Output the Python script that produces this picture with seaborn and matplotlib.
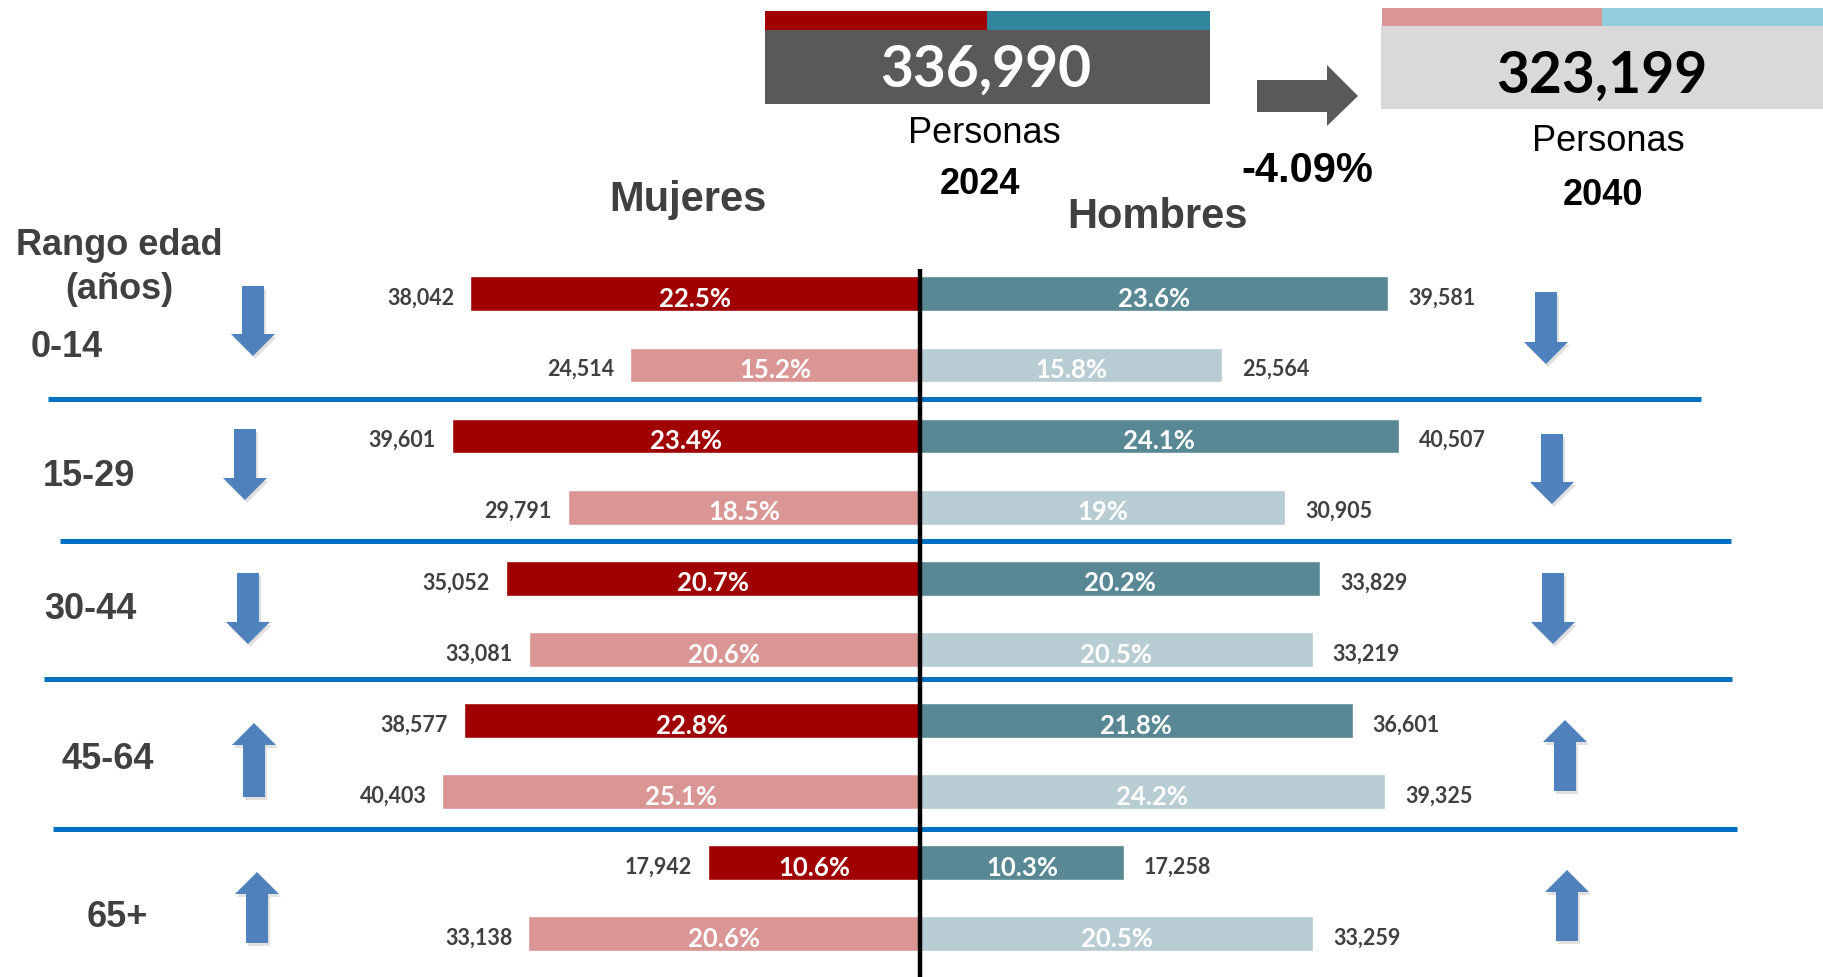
import matplotlib
matplotlib.use("Agg")
import matplotlib.pyplot as plt
import seaborn as sns
import pandas as pd
from matplotlib.patches import Rectangle, Polygon

# ---------------- data ----------------
age_groups = ["0-14", "15-29", "30-44", "45-64", "65+"]
years = ["2024", "2040"]
women_2024 = [38042, 39601, 35052, 38577, 17942]
women_2040 = [24514, 29791, 33081, 40403, 33138]
men_2024 = [39581, 40507, 33829, 36601, 17258]
men_2040 = [25564, 30905, 33219, 39325, 33259]
women_pct_2024 = [22.5, 23.4, 20.7, 22.8, 10.6]
women_pct_2040 = [15.2, 18.5, 20.6, 25.1, 20.6]
men_pct_2024 = [23.6, 24.1, 20.2, 21.8, 10.3]
men_pct_2040 = [15.8, 19, 20.5, 24.2, 20.5]
total_2024 = 336990
total_2040 = 323199
change_pct = -4.09

# ---------------- style ----------------
sns.set_style("white")
SANS = ["Liberation Sans", "DejaVu Sans"]
NUM = ["Lato", "DejaVu Sans"]
plt.rcParams["font.family"] = SANS

C_W24, C_W40 = "#A00000", "#DA9694"
C_M24, C_M40 = "#588893", "#B7CDD3"
C_TEAL, C_LBLUE = "#31859C", "#92CDDC"
C_TXT = "#404040"
C_ARROW = "#4F81BD"
C_SEP = "#0070C0"

rows, w_vals, m_vals, w_pct, m_pct, w_col, m_col = [], [], [], [], [], [], []
for i, g in enumerate(age_groups):
    for y, wv, mv, wp, mp, wc, mc in (
        (years[0], women_2024[i], men_2024[i], women_pct_2024[i], men_pct_2024[i], C_W24, C_M24),
        (years[1], women_2040[i], men_2040[i], women_pct_2040[i], men_pct_2040[i], C_W40, C_M40),
    ):
        rows.append(f"{g} {y}")
        w_vals.append(wv)
        m_vals.append(mv)
        w_pct.append(wp)
        m_pct.append(mp)
        w_col.append(wc)
        m_col.append(mc)

df = pd.DataFrame({"row": rows, "women": [-v for v in w_vals], "men": m_vals})

W, H = 1823, 978
fig = plt.figure(figsize=(W / 100, H / 100), dpi=100)

# overlay axes in pixel coordinates (decorations)
ov = fig.add_axes([0, 0, 1, 1])
ov.set_xlim(0, W)
ov.set_ylim(H, 0)
ov.axis("off")

# main bar axes
top_px = 270
ax = fig.add_axes([0, 0, 1, (H - top_px) / H])
ax.patch.set_alpha(0)
px_per_unit = 84.6
sns.barplot(data=df, x="women", y="row", hue="row", order=rows, hue_order=rows,
            palette=w_col, width=0.49, saturation=1, legend=False, orient="h", ax=ax)
sns.barplot(data=df, x="men", y="row", hue="row", order=rows, hue_order=rows,
            palette=m_col, width=0.49, saturation=1, legend=False, orient="h", ax=ax)
ax.set_xlim(-920 * px_per_unit, (W - 920) * px_per_unit)
ax.set_ylim(9.61, -0.35)
ax.axis("off")
ax.axvline(0, color="black", lw=3.2, zorder=5)

PT = 0.72  # points per pixel at 100 dpi
for i in range(len(rows)):
    ax.annotate(f"{w_vals[i]:,}", xy=(-w_vals[i], i + 0.05), xytext=(-16 * PT, 0),
                textcoords="offset points", ha="right", va="center",
                fontsize=15.5, fontweight="bold", color=C_TXT, family=NUM)
    ax.annotate(f"{m_vals[i]:,}", xy=(m_vals[i], i + 0.05), xytext=(20 * PT, 0),
                textcoords="offset points", ha="left", va="center",
                fontsize=15.5, fontweight="bold", color=C_TXT, family=NUM)
    ax.text(-w_vals[i] / 2, i + 0.06, f"{w_pct[i]:g}%", ha="center", va="center",
            fontsize=18.5, fontweight="bold", color="white", family=NUM, zorder=6)
    ax.text(m_vals[i] / 2, i + 0.06, f"{m_pct[i]:g}%", ha="center", va="center",
            fontsize=18.5, fontweight="bold", color="white", family=NUM, zorder=6)

# separators
for yy, x0, x1 in ((400, 48, 1701), (542, 60, 1731), (680, 44, 1732), (830, 53, 1737)):
    ov.plot([x0, x1], [yy, yy], color=C_SEP, lw=3.6, solid_capstyle="butt")


def block_arrow(cx, y0, y1, up, color=C_ARROW, shaft=22, head=44, hlen=22, shadow=True):
    if up:
        pts = [(cx - shaft / 2, y1), (cx - shaft / 2, y0 + hlen), (cx - head / 2, y0 + hlen),
               (cx, y0), (cx + head / 2, y0 + hlen), (cx + shaft / 2, y0 + hlen), (cx + shaft / 2, y1)]
    else:
        pts = [(cx - shaft / 2, y0), (cx - shaft / 2, y1 - hlen), (cx - head / 2, y1 - hlen),
               (cx, y1), (cx + head / 2, y1 - hlen), (cx + shaft / 2, y1 - hlen), (cx + shaft / 2, y0)]
    if shadow:
        sp = [(x + 2, y + 3) for x, y in pts]
        ov.add_patch(Polygon(sp, closed=True, color="#000000", alpha=0.12, lw=0))
    ov.add_patch(Polygon(pts, closed=True, color=color, lw=0))


left_arrows = [(253, 287, 357), (245, 430, 501), (248, 574, 645), (254, 724, 798), (257, 873, 944)]
right_arrows = [(1546, 293, 365), (1552, 435, 505), (1553, 574, 645), (1565, 721, 792), (1567, 871, 942)]
for i in range(len(age_groups)):
    cx, y0, y1 = left_arrows[i]
    block_arrow(cx, y0, y1, women_2040[i] > women_2024[i])
    cx, y0, y1 = right_arrows[i]
    block_arrow(cx, y0, y1, men_2040[i] > men_2024[i])

DY = 3.5  # vertical text adjustment (px)
# left labels
ov.text(119, 242 + DY, "Rango edad", ha="center", va="center", fontsize=26, fontweight="bold", color=C_TXT)
ov.text(119, 286 + DY, "(años)", ha="center", va="center", fontsize=26, fontweight="bold", color=C_TXT)
age_pos = [(31, 344), (43, 473), (44, 606), (62, 756), (87, 914)]
for g, (x, y) in zip(age_groups, age_pos):
    ov.text(x, y + DY, g, ha="left", va="center", fontsize=26, fontweight="bold", color=C_TXT)

ov.text(688, 196 + DY, "Mujeres", ha="center", va="center", fontsize=30, fontweight="bold", color=C_TXT)
ov.text(1158, 213 + DY, "Hombres", ha="center", va="center", fontsize=30, fontweight="bold", color=C_TXT)

# header boxes
ov.add_patch(Rectangle((765, 12), 222, 19, color=C_W24, lw=0))
ov.add_patch(Rectangle((987, 12), 223, 19, color=C_TEAL, lw=0))
ov.add_patch(Rectangle((765, 31), 445, 74, color="#595959", lw=0))
ov.text(986, 70, f"{total_2024:,}", ha="center", va="center", fontsize=41, fontweight="bold",
        color="white", family=NUM)
ov.text(984, 130 + DY, "Personas", ha="center", va="center", fontsize=26, color="black")
ov.text(980, 181 + DY, years[0], ha="center", va="center", fontsize=26, fontweight="bold", color="black")

ov.add_patch(Rectangle((1382, 9), 220, 18, color=C_W40, lw=0))
ov.add_patch(Rectangle((1602, 9), 221, 18, color=C_LBLUE, lw=0))
ov.add_patch(Rectangle((1381, 27), 442, 83, color="#D9D9D9", lw=0))
ov.text(1602, 76, f"{total_2040:,}", ha="center", va="center", fontsize=41, fontweight="bold",
        color="black", family=NUM)
ov.text(1608, 138 + DY, "Personas", ha="center", va="center", fontsize=26, color="black")
ov.text(1603, 192 + DY, years[1], ha="center", va="center", fontsize=26, fontweight="bold", color="black")

# gray arrow + change
ov.add_patch(Polygon([(1257, 81), (1327, 81), (1327, 66), (1358, 97), (1327, 127), (1327, 113), (1257, 113)],
                     closed=True, color="#595959", lw=0))
ov.text(1307, 168 + DY, f"{change_pct:.2f}%", ha="center", va="center", fontsize=30, fontweight="bold", color="black")

fig.savefig("out.png", dpi=100)
